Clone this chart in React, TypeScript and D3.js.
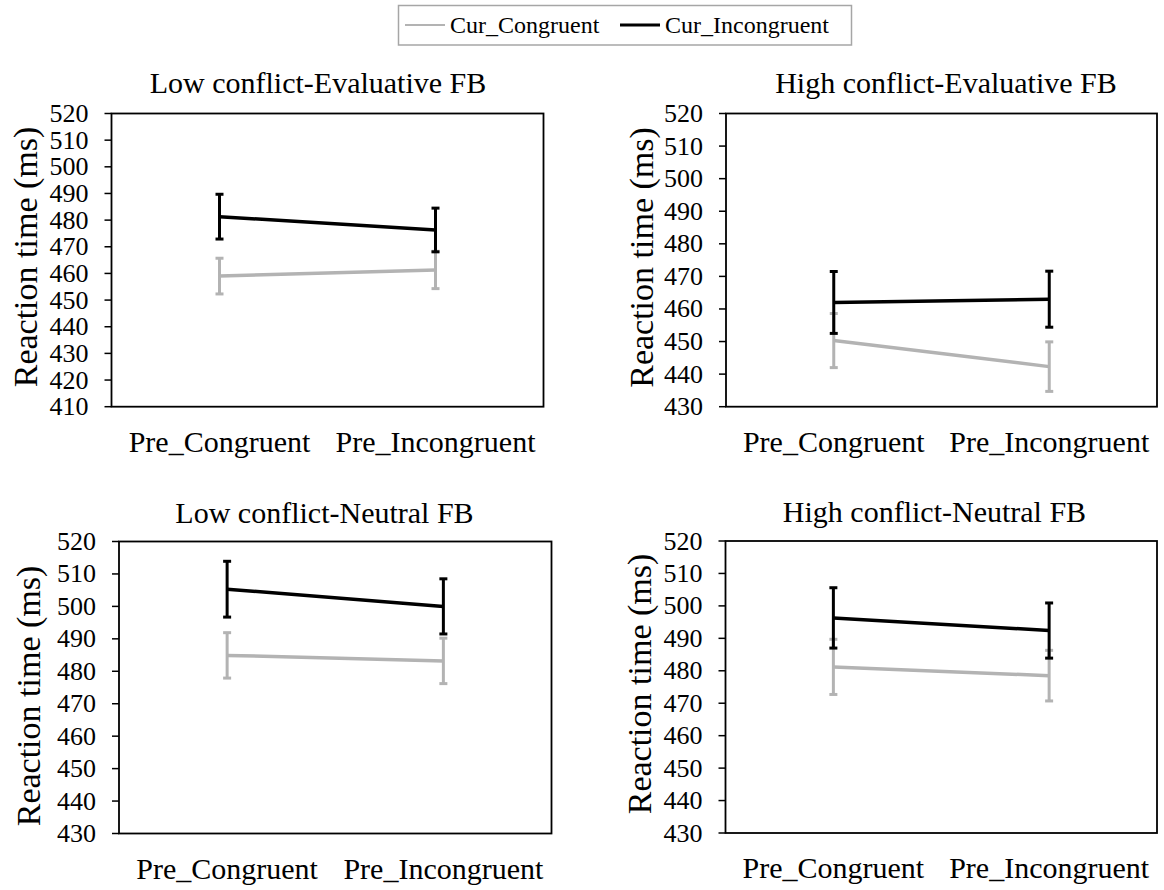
import React from "react";
import * as d3 from "d3";

// ---------- data ----------
const categories = ["Pre_Congruent", "Pre_Incongruent"];
const seriesNames = ["Cur_Congruent", "Cur_Incongruent"];
const panelTitles = [
  "Low conflict-Evaluative FB",
  "High conflict-Evaluative FB",
  "Low conflict-Neutral FB",
  "High conflict-Neutral FB",
];
const yMin = [410, 430, 430, 430];
const yMax = [520, 520, 520, 520];
const yStep = 10;
const congruentMeans = [
  [459.0, 461.3],
  [450.3, 442.3],
  [484.9, 483.2],
  [481.2, 478.5],
];
const congruentErrors = [
  [6.7, 7.0],
  [8.3, 7.6],
  [7.0, 7.0],
  [8.5, 7.8],
];
const incongruentMeans = [
  [481.3, 476.3],
  [462.0, 463.0],
  [505.3, 500.0],
  [496.3, 492.4],
];
const incongruentErrors = [
  [8.4, 8.2],
  [9.5, 8.6],
  [8.6, 8.5],
  [9.3, 8.5],
];
const yAxisLabel = "Reaction time (ms)";

// ---------- layout ----------
const W = 1164;
const H = 890;
const FONT = "'Liberation Serif', 'Times New Roman', serif";
const GRAY = "#b3b3b3";
const BLACK = "#000000";

const layout = [
  { x0: 111.5, x1: 543.5, y0: 113.5, y1: 406.7, titleX: 318, titleY: 93, ylabX: 25, ylabY: 257 },
  { x0: 726, x1: 1157, y0: 113.5, y1: 406.7, titleX: 946, titleY: 93, ylabX: 641, ylabY: 257.5 },
  { x0: 119, x1: 551.5, y0: 541.5, y1: 833.5, titleX: 324.5, titleY: 523, ylabX: 28.5, ylabY: 696 },
  { x0: 725.5, x1: 1157, y0: 541, y1: 833, titleX: 934.5, titleY: 521.7, ylabX: 639.5, ylabY: 684 },
];

function Panel({ idx }: { idx: number }) {
  const L = layout[idx];
  const x = d3.scaleBand<string>().domain(categories).range([L.x0, L.x1]).padding(0);
  const y = d3.scaleLinear().domain([yMin[idx], yMax[idx]]).range([L.y1, L.y0]);
  const ticks = d3.range(yMin[idx], yMax[idx] + 0.001, yStep);
  const cx = (c: string) => (x(c) as number) + x.bandwidth() / 2;
  const line = d3
    .line<[string, number]>()
    .x((d) => cx(d[0]))
    .y((d) => y(d[1]));

  const series = [
    { means: congruentMeans[idx], errs: congruentErrors[idx], color: GRAY },
    { means: incongruentMeans[idx], errs: incongruentErrors[idx], color: BLACK },
  ];

  return (
    <g>
      <text
        x={L.titleX}
        y={L.titleY}
        textAnchor="middle"
        fontFamily={FONT}
        fontSize={30}
        fill="#000"
      >
        {panelTitles[idx]}
      </text>
      <text
        transform={`translate(${L.ylabX},${L.ylabY}) rotate(-90)`}
        textAnchor="middle"
        dominantBaseline="central"
        fontFamily={FONT}
        fontSize={34}
        fill="#000"
      >
        {yAxisLabel}
      </text>
      {ticks.map((t) => (
        <g key={t}>
          <line x1={L.x0 - 7} x2={L.x0} y1={y(t)} y2={y(t)} stroke="#000" strokeWidth={1.5} />
          <text
            x={L.x0 - 23}
            y={y(t)}
            textAnchor="end"
            dominantBaseline="central"
            fontFamily={FONT}
            fontSize={26}
            fill="#000"
          >
            {t}
          </text>
        </g>
      ))}
      <rect
        x={L.x0}
        y={L.y0}
        width={L.x1 - L.x0}
        height={L.y1 - L.y0}
        fill="none"
        stroke="#000"
        strokeWidth={1.8}
      />
      {categories.map((c) => (
        <text
          key={c}
          x={cx(c)}
          y={L.y1 + 45}
          textAnchor="middle"
          fontFamily={FONT}
          fontSize={30}
          fill="#000"
        >
          {c}
        </text>
      ))}
      {series.map((s, si) => (
        <g key={si}>
          <path
            d={line(categories.map((c, i) => [c, s.means[i]]) as [string, number][]) || ""}
            fill="none"
            stroke={s.color}
            strokeWidth={3.5}
          />
          {categories.map((c, i) => {
            const px = cx(c);
            const top = y(s.means[i] + s.errs[i]);
            const bot = y(s.means[i] - s.errs[i]);
            return (
              <g key={c} stroke={s.color} strokeWidth={3}>
                <line x1={px} x2={px} y1={top} y2={bot} />
                <line x1={px - 4} x2={px + 4} y1={top} y2={top} />
                <line x1={px - 4} x2={px + 4} y1={bot} y2={bot} />
              </g>
            );
          })}
        </g>
      ))}
    </g>
  );
}

function Legend() {
  const colors = [GRAY, BLACK];
  const lineX = [405, 620];
  return (
    <g>
      <rect x={398.5} y={5.5} width={453} height={39.5} fill="#fff" stroke="#a6a6a6" strokeWidth={1.5} />
      {seriesNames.map((n, i) => (
        <g key={n}>
          <line x1={lineX[i]} x2={lineX[i] + 40} y1={25} y2={25} stroke={colors[i]} strokeWidth={i === 0 ? 2.2 : 3} />
          <text
            x={lineX[i] + 45}
            y={25}
            dominantBaseline="central"
            fontFamily={FONT}
            fontSize={24}
            fill="#000"
          >
            {n}
          </text>
        </g>
      ))}
    </g>
  );
}

export default function App() {
  return (
    <svg
      width={W}
      height={H}
      viewBox={`0 0 ${W} ${H}`}
      style={{ position: "absolute", left: 0, top: 0, background: "#fff" }}
    >
      <rect x={0} y={0} width={W} height={H} fill="#fff" />
      <Legend />
      {panelTitles.map((_, i) => (
        <Panel key={i} idx={i} />
      ))}
    </svg>
  );
}
